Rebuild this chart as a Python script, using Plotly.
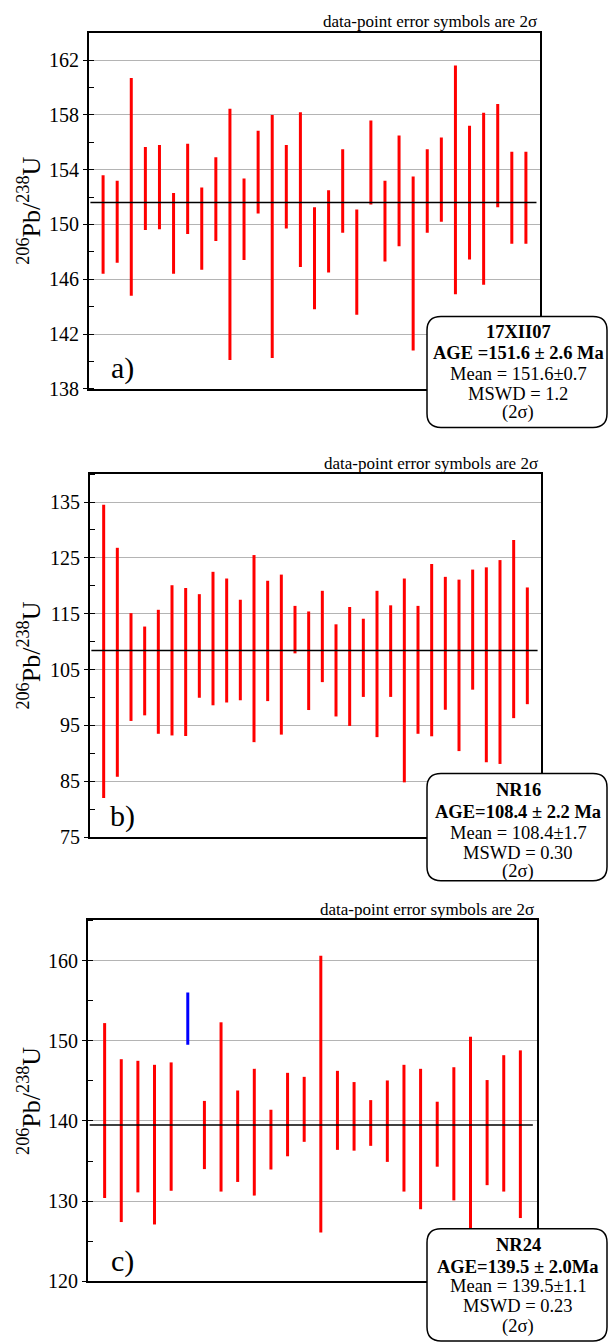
import plotly.graph_objects as go

# ---------------- data ----------------
# Panel a) 17XII07 : 2-sigma error bars (low, high) of 206Pb/238U ages
highs_a = [153.6, 153.2, 160.7, 155.65, 155.8, 152.3, 155.9, 152.7, 154.9, 158.45, 153.35,
           156.85, 158.0, 155.8, 158.2, 151.25, 152.5, 155.5, 151.1, 157.6, 153.2, 156.5,
           153.5, 155.5, 156.35, 161.6, 157.2, 158.15, 158.8, 155.3, 155.3]
lows_a = [146.4, 147.2, 144.8, 149.6, 149.65, 146.4, 149.3, 146.7, 148.8, 140.1, 147.4,
          150.8, 140.25, 149.7, 146.9, 143.8, 146.5, 149.4, 143.4, 151.45, 147.3, 148.4,
          140.8, 149.4, 150.2, 144.9, 147.45, 145.6, 151.25, 148.6, 148.6]
mean_a = 151.6

# Panel b) NR16
highs_b = [134.5, 126.8, 115.1, 112.7, 115.7, 120.1, 119.6, 118.5, 122.5, 121.3, 117.5,
           125.5, 120.9, 122.0, 116.4, 115.4, 119.1, 113.1, 116.2, 114.1, 119.1, 116.5,
           121.3, 116.4, 123.9, 121.6, 121.1, 122.9, 123.3, 124.6, 128.2, 119.7]
lows_b = [82.0, 85.8, 95.8, 96.8, 93.5, 93.2, 93.1, 99.95, 98.6, 99.1, 99.5,
          92.0, 99.35, 93.35, 107.9, 97.75, 102.75, 96.6, 94.9, 100.1, 92.9, 100.1,
          84.8, 93.5, 93.05, 97.8, 90.4, 101.4, 88.4, 88.1, 96.3, 98.8]
mean_b = 108.4

# Panel c) NR24 (6th analysis rejected -> blue)
highs_c = [152.2, 147.7, 147.5, 147.0, 147.3, 156.0, 142.5, 152.3, 143.8, 146.5, 141.4,
           146.0, 145.5, 160.6, 146.25, 144.85, 142.6, 145.05, 147.0, 146.5, 142.4, 146.7,
           150.5, 145.1, 148.2, 148.8]
lows_c = [130.4, 127.4, 131.1, 127.1, 131.3, 149.5, 134.0, 131.2, 132.4, 130.7, 133.95,
          135.6, 137.4, 126.1, 136.4, 136.3, 136.9, 134.9, 131.2, 129.0, 134.3, 130.1,
          126.2, 132.0, 131.2, 127.9]
rejected_c = [6]  # 1-based index
mean_c = 139.5

panel_labels = ["a)", "b)", "c)"]
box_texts = [
    ["<b>17XII07</b>", "<b>AGE =151.6 ± 2.6 Ma</b>", "Mean = 151.6±0.7", "MSWD = 1.2", "(2σ)"],
    ["<b>NR16</b>", "<b>AGE=108.4 ± 2.2 Ma</b>", "Mean = 108.4±1.7", "MSWD = 0.30", "(2σ)"],
    ["<b>NR24</b>", "<b>AGE=139.5 ± 2.0Ma</b>", "Mean = 139.5±1.1", "MSWD = 0.23", "(2σ)"],
]
header = "data-point error symbols are 2σ"
ytitle = "<sup>206</sup>Pb/<sup>238</sup>U"

# y-axis settings per panel: range, major step, minor step
y_ranges = [[138, 164], [75, 140], [120, 165]]
y_dticks = [4, 10, 10]
y_minor = [2, 5, 5]

# ---------------- layout geometry (pixels) ----------------
W, H = 608, 1344
FONT = "Liberation Serif"
plot_px = [  # x0, x1, ytop, ybottom
    (89, 540, 33, 392),
    (90, 541, 478, 844),
    (88, 537, 928, 1292),
]
box_px = [  # x0, x1, ytop, ybottom
    (427, 607, 319, 431),
    (427, 607, 780, 888),
    (427, 607, 1239, 1352),
]
box_line_y = [
    [335, 356, 377, 397, 416],
    [797, 819, 840, 860, 879],
    [1255, 1277, 1297, 1317, 1337],
]


def px(x):
    return x / W


def py(y):
    return 1 - y / H


def segs(lows, highs, idx):
    xs, ys = [], []
    for i in idx:
        xs += [i + 1, i + 1, None]
        ys += [lows[i], highs[i], None]
    return xs, ys


fig = go.Figure()
datasets = [(lows_a, highs_a, mean_a, []), (lows_b, highs_b, mean_b, []),
            (lows_c, highs_c, mean_c, rejected_c)]

shapes = []
annotations = []

for k, (lows, highs, mean, rej) in enumerate(datasets):
    n = len(lows)
    xa = "x" if k == 0 else f"x{k + 1}"
    ya = "y" if k == 0 else f"y{k + 1}"
    red_idx = [i for i in range(n) if (i + 1) not in rej]
    blue_idx = [i for i in range(n) if (i + 1) in rej]
    xs, ys = segs(lows, highs, red_idx)
    fig.add_trace(go.Scatter(x=xs, y=ys, mode="lines", line=dict(color="#ff0000", width=3),
                             xaxis=xa, yaxis=ya, hoverinfo="skip", showlegend=False))
    if blue_idx:
        xs, ys = segs(lows, highs, blue_idx)
        fig.add_trace(go.Scatter(x=xs, y=ys, mode="lines", line=dict(color="#0000ff", width=3),
                                 xaxis=xa, yaxis=ya, hoverinfo="skip", showlegend=False))
    # weighted mean line
    fig.add_trace(go.Scatter(x=[0.1, n + 0.75], y=[mean, mean], mode="lines",
                             line=dict(color="black", width=1.5),
                             xaxis=xa, yaxis=ya, hoverinfo="skip", showlegend=False))

    x0, x1, yt, yb = plot_px[k]
    xkey = "xaxis" if k == 0 else f"xaxis{k + 1}"
    ykey = "yaxis" if k == 0 else f"yaxis{k + 1}"
    fig.layout[xkey] = dict(domain=[px(x0), px(x1)], range=[0, n + 1], anchor=ya,
                            showline=True, linecolor="black", linewidth=2, mirror=True,
                            showgrid=False, zeroline=False, showticklabels=False, ticks="",
                            fixedrange=True)
    r = y_ranges[k]
    fig.layout[ykey] = dict(domain=[py(yb), py(yt)], range=r, anchor=xa,
                            tick0=r[0], dtick=y_dticks[k], ticks="outside", ticklen=4,
                            tickcolor="black", tickwidth=1,
                            showline=True, linecolor="black", linewidth=2, mirror=True,
                            showgrid=True, gridcolor="#b4b4b4", gridwidth=1, zeroline=False,
                            tickfont=dict(family=FONT, size=20, color="black"),
                            minor=dict(ticks="inside", ticklen=5, tick0=r[0], dtick=y_minor[k],
                                       tickcolor="black", tickwidth=1, showgrid=False),
                            fixedrange=True)

    # header
    annotations.append(dict(text=header, x=px(x1 - 1), y=py(yt - 11), xref="paper", yref="paper",
                            xanchor="right", yanchor="middle", showarrow=False,
                            font=dict(family=FONT, size=17, color="black")))
    # y title
    annotations.append(dict(text=ytitle, x=px(30), y=py((yt + yb) / 2), xref="paper", yref="paper",
                            xanchor="center", yanchor="middle", textangle=-90, showarrow=False,
                            font=dict(family=FONT, size=26, color="black")))
    # panel label
    annotations.append(dict(text=panel_labels[k], x=px(122), y=py(yb - 21), xref="paper", yref="paper",
                            xanchor="center", yanchor="middle", showarrow=False,
                            font=dict(family=FONT, size=30, color="black")))

    # rounded info box
    bx0, bx1, by0, by1 = box_px[k]
    rr = 14
    path = (f"M {px(bx0 + rr)},{py(by0)} L {px(bx1 - rr)},{py(by0)} "
            f"Q {px(bx1)},{py(by0)} {px(bx1)},{py(by0 + rr)} "
            f"L {px(bx1)},{py(by1 - rr)} Q {px(bx1)},{py(by1)} {px(bx1 - rr)},{py(by1)} "
            f"L {px(bx0 + rr)},{py(by1)} Q {px(bx0)},{py(by1)} {px(bx0)},{py(by1 - rr)} "
            f"L {px(bx0)},{py(by0 + rr)} Q {px(bx0)},{py(by0)} {px(bx0 + rr)},{py(by0)} Z")
    shapes.append(dict(type="path", path=path, xref="paper", yref="paper",
                       fillcolor="white", line=dict(color="black", width=1.5), layer="above"))
    for line_text, ly in zip(box_texts[k], box_line_y[k]):
        annotations.append(dict(text=line_text, x=px(518), y=py(ly), xref="paper", yref="paper",
                                xanchor="center", yanchor="middle", showarrow=False,
                                font=dict(family=FONT, size=18.5, color="black")))

fig.update_layout(width=W, height=H, margin=dict(l=0, r=0, t=0, b=0, pad=0),
                  paper_bgcolor="white", plot_bgcolor="white",
                  shapes=shapes, annotations=annotations, showlegend=False)

fig.write_html("out.html", config={"displayModeBar": False})
